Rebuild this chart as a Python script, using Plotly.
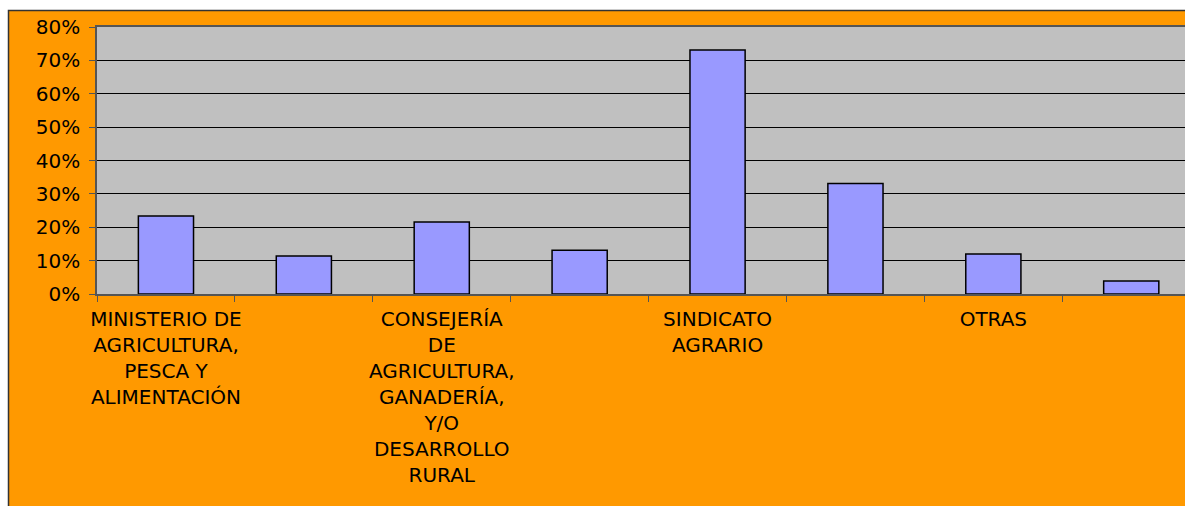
import plotly.graph_objects as go

# Category labels (only every other column carries a label)
categories = [
    "MINISTERIO DE<br>AGRICULTURA,<br>PESCA Y<br>ALIMENTACIÓN",
    "",
    "CONSEJERÍA<br>DE<br>AGRICULTURA,<br>GANADERÍA,<br>Y/O<br>DESARROLLO<br>RURAL",
    "",
    "SINDICATO<br>AGRARIO",
    "",
    "OTRAS",
    "",
]
# Percentages per column
values = [23.4, 11.4, 21.6, 13.1, 73.1, 33.1, 12.0, 3.9]
y_ticks = [0, 10, 20, 30, 40, 50, 60, 70, 80]

positions = list(range(len(categories)))
labeled = [i for i, c in enumerate(categories) if c]

FONT = "DejaVu Sans"

fig = go.Figure(
    go.Bar(
        x=positions,
        y=values,
        width=0.4,
        marker=dict(color="#9999FF", line=dict(color="#000000", width=1.5)),
        hoverinfo="skip",
    )
)

W, H = 1185, 506
fig.update_layout(
    width=W,
    height=H,
    margin=dict(l=97, r=0, t=27, b=212, pad=0),
    paper_bgcolor="#FFFFFF",
    plot_bgcolor="rgba(0,0,0,0)",
    showlegend=False,
    font=dict(family=FONT, size=20, color="#000000"),
    shapes=[
        # orange chart area with dark frame
        dict(
            type="rect", xref="paper", yref="paper", layer="below",
            x0=-88.5 / (W - 97), x1=1.05,
            y0=-0.9, y1=1 + 16.5 / 267,
            fillcolor="#FF9900",
            line=dict(color="#333333", width=1.5),
        ),
        # grey plotting area
        dict(
            type="rect", xref="paper", yref="paper", layer="below",
            x0=0, x1=1, y0=0, y1=1,
            fillcolor="#C0C0C0",
            line=dict(width=0),
        ),
    ],
)

fig.update_xaxes(
    range=[-0.5, -0.5 + (W - 97) / 137.9],
    tickmode="array",
    tickvals=labeled,
    ticktext=[categories[i] for i in labeled],
    ticks="",
    showgrid=False,
    zeroline=False,
    showline=True,
    linecolor="#555555",
    linewidth=1.5,
    mirror=True,
    tickfont=dict(family=FONT, size=20, color="#000000"),
    ticklabelstandoff=6,
    minor=dict(
        tickmode="array",
        tickvals=[p - 0.5 for p in positions] + [positions[-1] + 0.5],
        ticks="outside",
        ticklen=6,
        tickwidth=1,
        tickcolor="#555555",
        showgrid=False,
    ),
)

fig.update_yaxes(
    range=[0, 80],
    tickmode="array",
    tickvals=y_ticks,
    ticktext=[f"{v}%" for v in y_ticks],
    ticks="outside",
    ticklen=6,
    tickwidth=1,
    tickcolor="#555555",
    showgrid=True,
    gridcolor="#000000",
    gridwidth=1,
    zeroline=False,
    showline=True,
    linecolor="#555555",
    linewidth=1.5,
    ticklabelstandoff=5,
    tickfont=dict(family=FONT, size=20, color="#000000"),
)

fig.write_html("out.html")
